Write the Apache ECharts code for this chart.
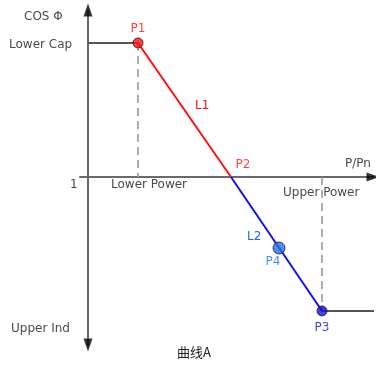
<!DOCTYPE html>
<html>
<head>
<meta charset="utf-8">
<script src="https://cdn.jsdelivr.net/npm/echarts@6/dist/echarts.min.js"></script>
<style>
  html, body { margin: 0; padding: 0; background: #fff; }
  #chart { width: 376px; height: 366px; }
</style>
</head>
<body>
<div id="chart"></div>
<script>
// Power-factor curve A: cos φ as a function of P/Pn
// x: P/Pn in plot units (0 = vertical axis), y: +1 = Lower Cap, 0 = cos φ 1, -1 = Upper Ind
const pointNames = ['P1', 'P2', 'P4', 'P3'];
const pointX = [1.0, 2.86, 3.82, 4.68];
const pointY = [1, 0, -0.53, -1];
const pointColors = ['#ff1010', '#ff1010', '#1f6ff0', '#0a10e8'];
const pointSizes = [10, 0, 12, 10];
const capLevel = 1;
const indLevel = -1;
const xEnd = 5.76;
const xAxisLabels = ['Lower Power', 'Upper Power', 'P/Pn'];
const yAxisLabels = ['COS Φ', 'Lower Cap', '1', 'Upper Ind'];
const lineNames = ['L1', 'L2'];
const caption = '曲线A';

const FONT = 'DejaVu Sans';
const TXT = '#4a4a4a';
const F12 = '12px ' + FONT;

const chart = echarts.init(document.getElementById('chart'), null, { renderer: 'canvas' });

const P = i => [pointX[i], pointY[i]];

const xMin = -0.16, xMax = 5.7;
const yMin = -1.254, yMax = 1.246;

const option = {
  animation: false,
  backgroundColor: '#ffffff',
  grid: { left: 80, right: 3, top: 10, bottom: 21 },
  xAxis: {
    type: 'value', min: xMin, max: xMax,
    axisLine: { show: true, onZero: true, lineStyle: { color: '#6a6a6a', width: 2 } },
    axisTick: { show: false }, axisLabel: { show: false }, splitLine: { show: false }
  },
  yAxis: {
    type: 'value', min: yMin, max: yMax,
    axisLine: { show: true, onZero: true, lineStyle: { color: '#6a6a6a', width: 2 } },
    axisTick: { show: false }, axisLabel: { show: false }, splitLine: { show: false }
  },
  series: [
    { // Lower Cap plateau
      type: 'line', silent: true, symbol: 'none', clip: false,
      data: [[0, capLevel], P(0)],
      lineStyle: { color: '#555', width: 2 }
    },
    { // dashed guides down to the P/Pn axis
      type: 'line', silent: true, symbol: 'none', clip: false,
      data: [[pointX[0], capLevel], [pointX[0], 0], null, [pointX[3], 0], [pointX[3], indLevel]],
      connectNulls: false,
      lineStyle: { color: '#9a9a9a', width: 1.6, type: [8, 5] }
    },
    { // L1
      type: 'line', silent: true, symbol: 'none', clip: false,
      data: [P(0), P(1)],
      lineStyle: { color: '#ff1010', width: 2 }
    },
    { // L2
      type: 'line', silent: true, symbol: 'none', clip: false,
      data: [P(1), P(3)],
      lineStyle: { color: '#1010f0', width: 2 }
    },
    { // Upper Ind plateau
      type: 'line', silent: true, symbol: 'none', clip: false,
      data: [P(3), [xEnd, indLevel]],
      lineStyle: { color: '#555', width: 2 }
    },
    { // axis arrowheads
      type: 'scatter', silent: true, clip: false, symbol: 'triangle',
      data: [
        { value: [0, yMax], symbolRotate: 0 },
        { value: [0, yMin], symbolRotate: 180 },
        { value: [xMax, 0], symbolRotate: -90 }
      ],
      symbolSize: [9, 13],
      itemStyle: { color: '#000' }
    },
    { // curve points
      type: 'scatter', silent: true, clip: false, z: 5,
      data: pointNames.map((n, i) => ({
        name: n,
        value: P(i),
        symbolSize: pointSizes[i],
        itemStyle: { color: pointColors[i], borderColor: '#3a1010', borderWidth: 1 },
        label: {
          show: true, formatter: n, color: pointColors[i],
          fontFamily: FONT, fontSize: 12,
          position: ['top', 'top', 'bottom', 'bottom'][i],
          offset: [[0, 0], [12, -2], [-6, -2], [0, 0]][i],
          distance: [3, 4, 3, 5][i]
        }
      }))
    }
  ],
  graphic: [
    { type: 'text', left: 24, top: 11, style: { text: yAxisLabels[0], fill: TXT, font: F12 } },
    { type: 'text', left: 9, top: 39, style: { text: yAxisLabels[1], fill: TXT, font: F12 } },
    { type: 'text', left: 70, top: 179, style: { text: yAxisLabels[2], fill: TXT, font: F12 } },
    { type: 'text', left: 11, top: 323, style: { text: yAxisLabels[3], fill: TXT, font: F12 } },
    { type: 'text', left: 111, top: 179, style: { text: xAxisLabels[0], fill: TXT, font: F12 } },
    { type: 'text', left: 283, top: 187, style: { text: xAxisLabels[1], fill: TXT, font: F12 } },
    { type: 'text', left: 345, top: 158, style: { text: xAxisLabels[2], fill: TXT, font: F12 } },
    { type: 'text', left: 195, top: 100, style: { text: lineNames[0], fill: '#ff1010', font: F12 } },
    { type: 'text', left: 247, top: 231, style: { text: lineNames[1], fill: '#2a5ff0', font: F12 } },
    { type: 'text', left: 177, top: 346, style: { text: caption, fill: '#222', font: '13px "Noto Sans CJK SC"' } }
  ]
};

chart.setOption(option);
</script>
</body>
</html>
